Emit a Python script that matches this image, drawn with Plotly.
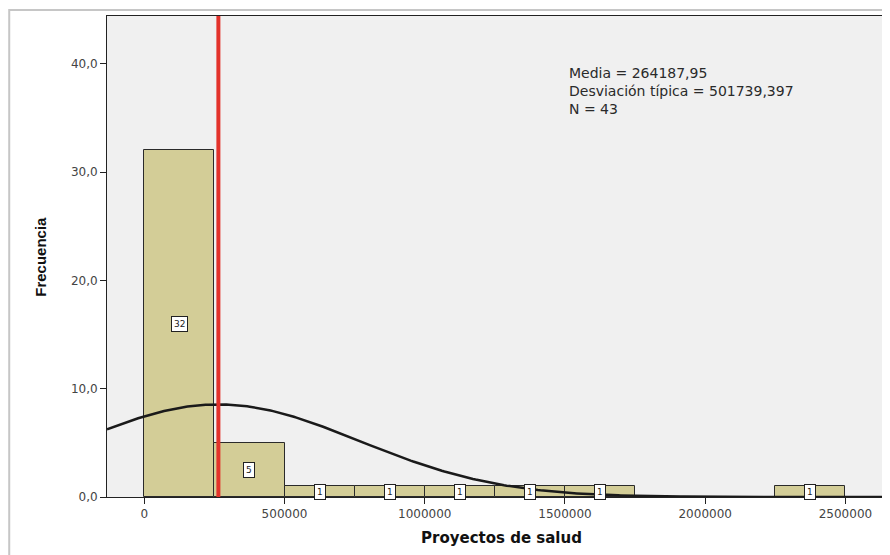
import numpy as np
import plotly.graph_objects as go

# Histogram bins (lower edge) and frequencies
BIN_WIDTH = 250000
bin_starts = [0, 250000, 500000, 750000, 1000000, 1250000, 1500000, 2250000]
counts = [32, 5, 1, 1, 1, 1, 1, 1]

# Summary statistics shown on the chart
media = 264187.95
desviacion = 501739.397
n_total = 43

x_ticks = [0, 500000, 1000000, 1500000, 2000000, 2500000]
x_ticklabels = ["0", "500000", "1000000", "1500000", "2000000", "2500000"]
y_ticks = [0, 10, 20, 30, 40]

BAR_COLOR = "#d3cd97"
RED = "#e3322b"

centers = [s + BIN_WIDTH / 2 for s in bin_starts]

fig = go.Figure()
fig.add_trace(go.Bar(
    x=centers, y=counts, width=BIN_WIDTH,
    marker=dict(color=BAR_COLOR, line=dict(color="#2a2a2a", width=1)),
    hoverinfo="x+y", showlegend=False,
))

# Fitted normal curve scaled to counts (N * bin width * pdf)
xs = np.linspace(-133000, 2634000, 300)
pdf = np.exp(-0.5 * ((xs - media) / desviacion) ** 2) / (desviacion * np.sqrt(2 * np.pi))
fig.add_trace(go.Scatter(
    x=xs, y=pdf * n_total * BIN_WIDTH, mode="lines",
    line=dict(color="#1a1a1a", width=2.5), showlegend=False, hoverinfo="skip",
))

# Mean line
fig.add_shape(type="line", x0=media, x1=media, y0=0, y1=1, yref="y domain",
              line=dict(color=RED, width=4))

# Count labels in small boxes at mid-height of each bar
for c, v in zip(centers, counts):
    fig.add_annotation(x=c, y=v / 2, text=str(v), showarrow=False,
                       font=dict(family="DejaVu Sans", size=9, color="#222"),
                       bgcolor="white", bordercolor="#222", borderwidth=1, borderpad=2)

stat_lines = [
    f"Media = {media:.2f}".replace(".", ","),
    f"Desviación típica = {desviacion:.3f}".replace(".", ","),
    f"N = {n_total}",
]
fig.add_annotation(x=1506000, y=40.1, text="<br>".join(stat_lines), showarrow=False,
                   xanchor="left", yanchor="top", align="left",
                   font=dict(family="DejaVu Sans", size=14, color="#2a2a2a"))

# Axis titles
fig.add_annotation(xref="paper", yref="paper", x=-0.086, y=0.5, text="<b>Frecuencia</b>",
                   textangle=-90, showarrow=False, xanchor="center", yanchor="middle",
                   font=dict(family="Liberation Sans", size=15, color="#111"))
fig.add_annotation(xref="paper", yref="paper", x=0.508, y=-0.085, text="<b>Proyectos de salud</b>",
                   showarrow=False, xanchor="center", yanchor="middle",
                   font=dict(family="DejaVu Sans", size=15, color="#111"))

# Outer grey frame
fig.add_shape(type="rect", xref="paper", yref="paper",
              x0=-0.126, x1=1.006, y0=-0.2, y1=1.0125,
              line=dict(color="#c6c6c6", width=2), layer="below")

fig.update_layout(
    width=882, height=547,
    margin=dict(l=99, r=7, t=8, b=58),
    paper_bgcolor="white",
    plot_bgcolor="#f0f0f0",
    separators=",.",
    bargap=0,
    showlegend=False,
    font=dict(family="DejaVu Sans", size=12, color="#444"),
    xaxis=dict(
        range=[-133000, 2634000], tickvals=x_ticks, ticktext=x_ticklabels,
        ticks="outside", ticklen=6, tickcolor="#222", showgrid=False, zeroline=False,
        showline=True, linecolor="#222", linewidth=1, mirror=True,
        tickfont=dict(family="DejaVu Sans", size=12, color="#444"),
    ),
    yaxis=dict(
        range=[0, 44.4], tickvals=y_ticks, tickformat=".1f",
        ticks="outside", ticklen=6, tickcolor="#222", showgrid=False, zeroline=False,
        showline=True, linecolor="#222", linewidth=1, mirror=True,
        tickfont=dict(family="DejaVu Sans", size=12, color="#444"),
    ),
)

fig.write_html("out.html")
